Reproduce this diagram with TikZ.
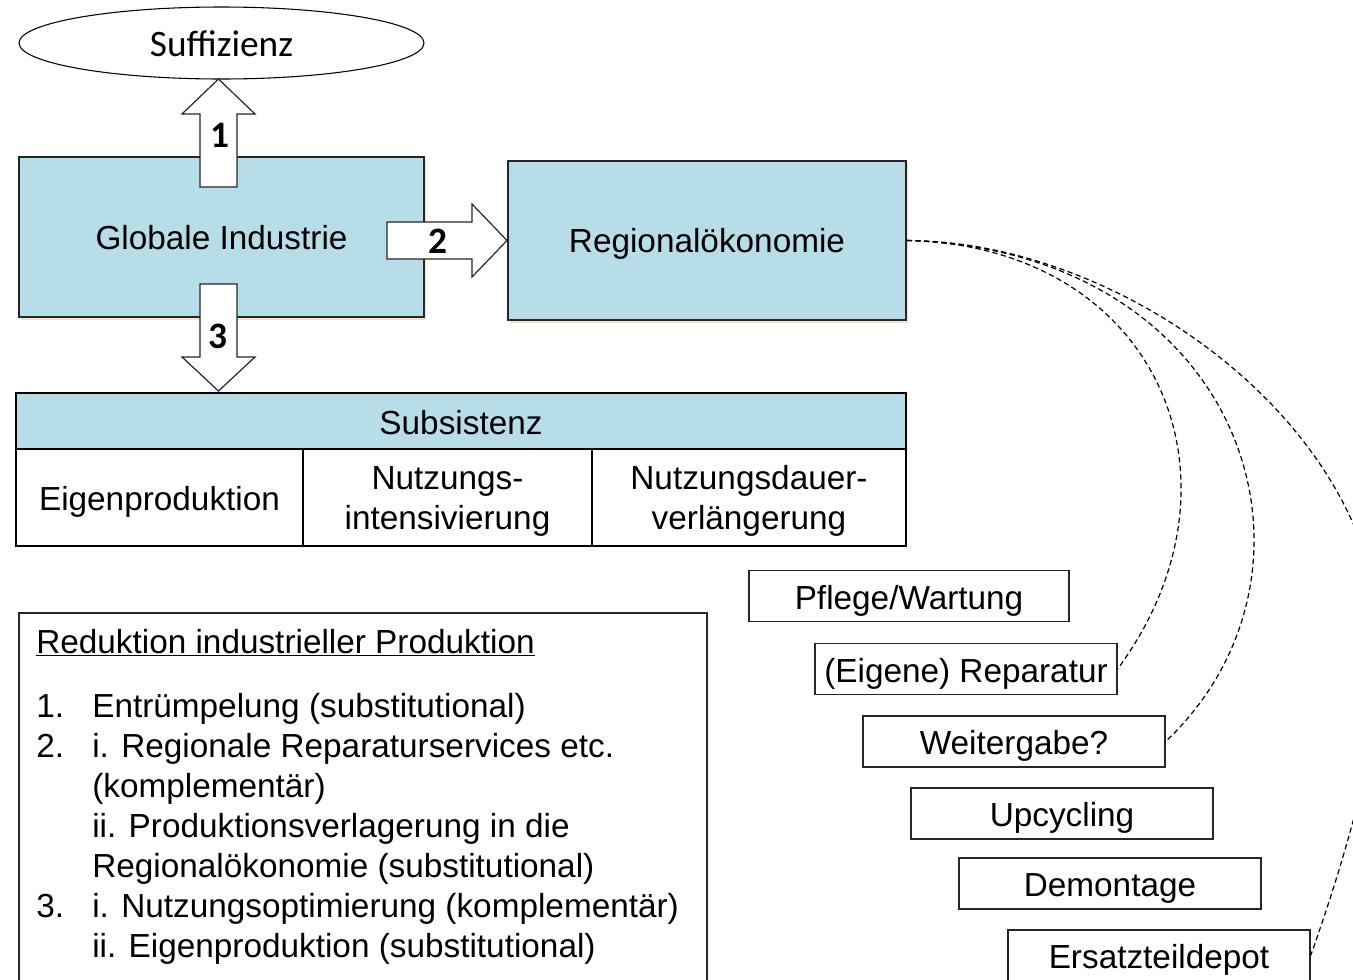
\documentclass[tikz,border=0pt]{standalone}
\usepackage{fontspec}
\setmainfont{Liberation Sans}
\newfontfamily\calibri{Carlito}
\usepackage{tikz}
\usetikzlibrary{positioning,shapes.geometric,shadows}

\definecolor{skyblue}{RGB}{183,221,232}
\definecolor{peach}{RGB}{250,215,190}
\newcommand{\twolines}[2]{\raisebox{-3pt}[\height][\depth]{\begin{tabular}{@{}c@{}}#1\\#2\end{tabular}}}

\begin{document}
\begin{tikzpicture}[x=0.75pt,y=-0.75pt,
	every node/.style={font=\fontsize{25}{30}\selectfont},
	blubox/.style={draw=black!85,line width=1pt,fill=skyblue,text height=18pt,text depth=0pt,
		drop shadow={shadow xshift=1.5pt,shadow yshift=-2.5pt,fill=peach,opacity=.8}},
	cellbox/.style={draw,line width=1.4pt,inner sep=0pt,align=center,minimum height=72.75pt},
	itembox/.style={draw=black!85,line width=0.9pt,inner sep=2pt,minimum width=226.5pt,minimum height=38.25pt,
		text height=19.5pt,text depth=0pt},
	blockarr/.style={draw=black!85,line width=0.9pt,fill=white,line join=miter},
	numlbl/.style={font=\fontsize{28}{28}\calibri\bfseries,inner sep=0pt},
	link/.style={dash pattern=on 4pt off 2.5pt,line width=0.9pt}]
	\useasboundingbox (0,0) rectangle (1353,979);
	\clip (0,0) rectangle (1353,979);

	%top
	\node[ellipse,draw,line width=0.8pt,inner sep=0pt,minimum width=303.75pt,minimum height=54pt,
		text height=19.5pt,text depth=0pt,font=\fontsize{28}{28}\calibri] (suff) at (221.5,43) {Suffizienz};
	\node[blubox,minimum width=303.75pt,minimum height=120pt] (glob) at (221.5,237) {Globale Industrie};
	\node[blubox,minimum width=298.5pt,minimum height=119.25pt] (reg) at (707,240.5) {Regional\"okonomie};

	%subsistence table
	\node[cellbox,fill=skyblue,minimum width=667.5pt,minimum height=42pt,text height=20pt,text depth=0pt] (sub) at (461,421) {Subsistenz};
	\node[cellbox,minimum width=215.25pt,text height=20pt,text depth=0pt] (c1) at (159.5,497.5) {Eigenproduktion};
	\node[cellbox,minimum width=216.75pt] (c2) at (447.5,497.5) {\twolines{Nutzungs-}{intensivierung}};
	\node[cellbox,minimum width=235.5pt] (c3) at (749,497.5) {\twolines{Nutzungsdauer-}{verl\"angerung}};

	%block arrows
	\draw[blockarr] (200,187) -- (200,114) -- (182,114) -- (218.5,79) -- (255,114) -- (237,114) -- (237,187) -- cycle;
	\draw[blockarr] (387,222) -- (472,222) -- (472,204) -- (507,240.5) -- (472,277) -- (472,259) -- (387,259) -- cycle;
	\draw[blockarr] (200,284) -- (237,284) -- (237,357) -- (255,357) -- (218.5,391) -- (182,357) -- (200,357) -- cycle;
	\node[numlbl] (n1) at (220,135) {1};
	\node[numlbl] (n2) at (438,241.5) {2};
	\node[numlbl] (n3) at (218,336.5) {3};

	%right boxes
	\node[itembox,minimum width=240pt] (pfl) at (909,596) {Pflege/Wartung};
	\node[itembox] (rep) at (966,669) {(Eigene) Reparatur};
	\node[itembox] (wei) at (1014,741.5) {Weitergabe?};
	\node[itembox] (upc) at (1062,813.5) {Upcycling};
	\node[itembox] (dem) at (1110,883.5) {Demontage};
	\node[itembox] (ers) at (1159,955.5) {Ersatzteildepot};

	%links
	\coordinate (bend) at (1382,655);
	\draw[link] (reg.east) .. controls +(250,5) and +(140,-190) .. (rep.east);
	\draw[link] (reg.east) .. controls +(340,10) and +(180,-170) .. (wei.east);
	\draw[link] (reg.east) .. controls +(215,0) and +(0,-230) .. (bend)
		.. controls +(0,90) and +(20,-55) .. (ers.east);

	%reduction box
	\node[draw=black!85,line width=0.9pt,minimum width=516pt,minimum height=290.25pt] (red) at (363,806.5) {};
	\node[anchor=base west,inner sep=0pt] (redtxt) at (36,653) {%
		\begin{tabular}[t]{@{}p{42pt}@{}l@{}}
		\multicolumn{2}{@{}l@{}}{\underline{Reduktion industrieller Produktion}}\\[18pt]
		1. & Entr\"umpelung (substitutional)\\
		2. & i. Regionale Reparaturservices etc.\\
		   & (komplement\"ar)\\
		   & ii. Produktionsverlagerung in die\\
		   & Regional\"okonomie (substitutional)\\
		3. & i. Nutzungsoptimierung (komplement\"ar)\\
		   & ii. Eigenproduktion (substitutional)
		\end{tabular}};
\end{tikzpicture}
\end{document}
